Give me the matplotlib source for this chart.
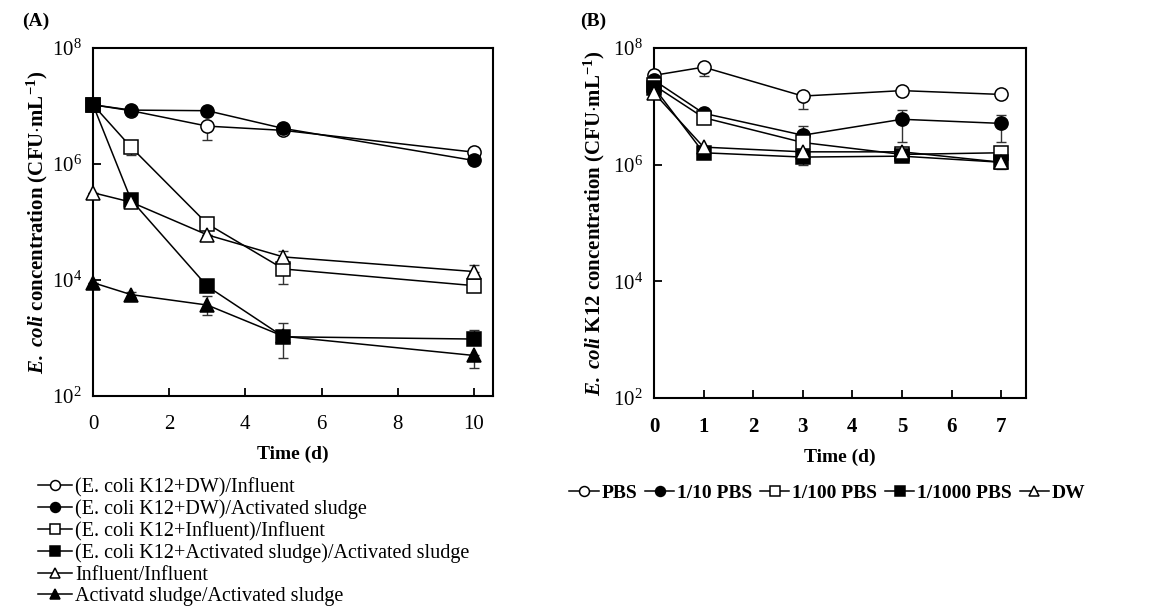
import matplotlib
matplotlib.use("Agg")
import matplotlib.pyplot as plt
import numpy as np

plt.rcParams['font.family'] = ['Liberation Serif', 'DejaVu Serif']
plt.rcParams['mathtext.fontset'] = 'custom'
plt.rcParams['mathtext.rm'] = 'Liberation Serif'
plt.rcParams['mathtext.it'] = 'Liberation Serif:italic'
plt.rcParams['mathtext.bf'] = 'Liberation Serif:bold'
plt.rcParams['mathtext.bfit'] = 'Liberation Serif:bold:italic'

# ---------------- Panel A data ----------------
days_a = [0, 1, 3, 5, 10]
labels_a = ["(E. coli K12+DW)/Influent",
            "(E. coli K12+DW)/Activated sludge",
            "(E. coli K12+Influent)/Influent",
            "(E. coli K12+Activated sludge)/Activated sludge",
            "Influent/Influent",
            "Activatd sludge/Activated sludge"]
dw_inf = [1.05e7, 8.3e6, 4.5e6, 3.8e6, 1.6e6]
dw_as = [1.05e7, 8.5e6, 8.3e6, 4.1e6, 1.15e6]
inf_inf = [1.05e7, 1.95e6, 9.3e4, 1.55e4, 8.0e3]
as_as = [1.05e7, 2.4e5, 7.8e3, 1.05e3, 9.6e2]
influent = [3.2e5, 2.2e5, 6.0e4, 2.5e4, 1.4e4]
sludge = [9.0e3, 5.6e3, 3.7e3, 1.07e3, 5.0e2]
# error bar end points (lower, upper)
dw_inf_lo = [1.05e7, 8.3e6, 2.6e6, 3.8e6, 1.6e6]
dw_inf_hi = dw_inf
inf_inf_lo = [1.05e7, 1.45e6, 9.3e4, 8.5e3, 8.0e3]
inf_inf_hi = inf_inf
as_as_lo = [1.05e7, 2.4e5, 7.8e3, 4.5e2, 9.6e2]
as_as_hi = [1.05e7, 2.4e5, 7.8e3, 1.8e3, 1.4e3]
influent_lo = influent
influent_hi = [3.2e5, 2.2e5, 6.0e4, 3.2e4, 1.8e4]
sludge_lo = [9.0e3, 5.0e3, 2.5e3, 1.07e3, 3.0e2]
sludge_hi = [9.0e3, 6.2e3, 5.3e3, 1.07e3, 5.0e2]

# ---------------- Panel B data ----------------
days_b = [0, 1, 3, 5, 7]
labels_b = ["PBS", "1/10 PBS", "1/100 PBS", "1/1000 PBS", "DW"]
pbs = [3.4e7, 4.7e7, 1.5e7, 1.86e7, 1.6e7]
pbs10 = [2.8e7, 7.6e6, 3.2e6, 6.0e6, 5.1e6]
pbs100 = [2.3e7, 6.4e6, 2.4e6, 1.5e6, 1.6e6]
pbs1000 = [2.1e7, 1.6e6, 1.35e6, 1.4e6, 1.1e6]
dw = [1.7e7, 2.0e6, 1.66e6, 1.66e6, 1.1e6]
pbs_lo = [3.4e7, 3.3e7, 9.1e6, 1.86e7, 1.6e7]
pbs10_hi = [2.8e7, 7.6e6, 4.6e6, 8.6e6, 7.0e6]
pbs10_lo = [2.8e7, 7.6e6, 3.2e6, 2.45e6, 2.45e6]
pbs1000_lo = [2.1e7, 1.6e6, 9.8e5, 1.4e6, 1.1e6]
dw_lo = [1.7e7, 2.0e6, 1.66e6, 1.66e6, 8.5e5]

fig = plt.figure(figsize=(11.61, 6.10), dpi=100)
axA = fig.add_axes([0.0801, 0.3508, 0.3445, 0.5705])
axB = fig.add_axes([0.5633, 0.3475, 0.3204, 0.5738])

ms = 9.5
lw = 1.1

def series(ax, x, y, marker, filled, label, lo=None, hi=None, ms=ms):
    y = np.array(y, float)
    if lo is not None or hi is not None:
        lo_a = y - np.array(lo if lo is not None else y, float)
        hi_a = np.array(hi if hi is not None else y, float) - y
        ax.errorbar(x, y, yerr=[lo_a, hi_a], fmt='none', ecolor='#333333',
                    elinewidth=1.0, capsize=3.5, capthick=1.0, zorder=2, clip_on=False)
    line, = ax.plot(x, y, color='black', lw=lw, marker=marker, ms=ms,
                    mfc='black' if filled else 'white', mec='black', mew=1.1,
                    label=label, zorder=3, clip_on=False)
    return line

hA = [
    series(axA, days_a, dw_inf, 'o', False, labels_a[0], lo=dw_inf_lo, hi=dw_inf_hi),
    series(axA, days_a, dw_as, 'o', True, labels_a[1]),
    series(axA, days_a, inf_inf, 's', False, labels_a[2], lo=inf_inf_lo, hi=inf_inf_hi),
    series(axA, days_a, as_as, 's', True, labels_a[3], lo=as_as_lo, hi=as_as_hi),
    series(axA, days_a, influent, '^', False, labels_a[4], lo=influent_lo, hi=influent_hi, ms=10.5),
    series(axA, days_a, sludge, '^', True, labels_a[5], lo=sludge_lo, hi=sludge_hi, ms=10.5),
]
hB = [
    series(axB, days_b, pbs, 'o', False, labels_b[0], lo=pbs_lo, hi=pbs),
    series(axB, days_b, pbs10, 'o', True, labels_b[1], lo=pbs10_lo, hi=pbs10_hi),
    series(axB, days_b, pbs100, 's', False, labels_b[2]),
    series(axB, days_b, pbs1000, 's', True, labels_b[3], lo=pbs1000_lo, hi=pbs1000),
    series(axB, days_b, dw, '^', False, labels_b[4], lo=dw_lo, hi=dw, ms=10.5),
]

for ax, xmax, xt in [(axA, 10.5, [0, 2, 4, 6, 8, 10]), (axB, 7.5, [0, 1, 2, 3, 4, 5, 6, 7])]:
    ax.set_yscale('log')
    ax.set_ylim(1e2, 1e8)
    ax.set_xlim(0, xmax)
    ax.set_xticks(xt)
    ax.set_yticks([1e2, 1e4, 1e6, 1e8])
    ax.yaxis.set_minor_locator(matplotlib.ticker.NullLocator())
    ax.set_yticklabels([r'10$^{2}$', r'10$^{4}$', r'10$^{6}$', r'10$^{8}$'])
    ax.tick_params(direction='in', length=6, width=1.3, labelsize=15)
    ax.tick_params(axis='x', pad=14)
    ax.tick_params(axis='y', pad=8)
    for s in ax.spines.values():
        s.set_linewidth(1.5)
    ax.set_xlabel('Time (d)', fontsize=14, fontweight='bold', labelpad=8)

for lab in axB.get_xticklabels():
    lab.set_fontweight('bold')

axA.set_ylabel(r'$\mathbfit{E.\ coli}$ concentration (CFU$\cdot$mL$^{\mathbf{-1}}$)',
               fontsize=15, fontweight='bold', labelpad=1)
axB.set_ylabel(r'$\mathbfit{E.\ coli}$ K12 concentration (CFU$\cdot$mL$^{\mathbf{-1}}$)',
               fontsize=15, fontweight='bold', labelpad=4)

fig.text(0.019, 0.965, '(A)', fontsize=14, fontweight='bold', va='center')
fig.text(0.4995, 0.965, '(B)', fontsize=14, fontweight='bold', va='center')

legA = fig.legend(handles=hA, labels=labels_a, loc='upper left',
                  bbox_to_anchor=(0.0327, 0.217), bbox_transform=fig.transFigure,
                  frameon=False, fontsize=14.5, handlelength=1.7, handletextpad=0.15,
                  labelspacing=0.12, borderaxespad=0, borderpad=0, markerscale=0.75)
legB = fig.legend(handles=hB, labels=labels_b, loc='upper left',
                  bbox_to_anchor=(0.4905, 0.206), bbox_transform=fig.transFigure,
                  frameon=False, ncol=5, handlelength=1.5, handletextpad=0.15,
                  columnspacing=0.4, borderaxespad=0, borderpad=0, markerscale=0.75,
                  prop={'weight': 'bold', 'size': 14})

fig.savefig('out.png', dpi=100)
